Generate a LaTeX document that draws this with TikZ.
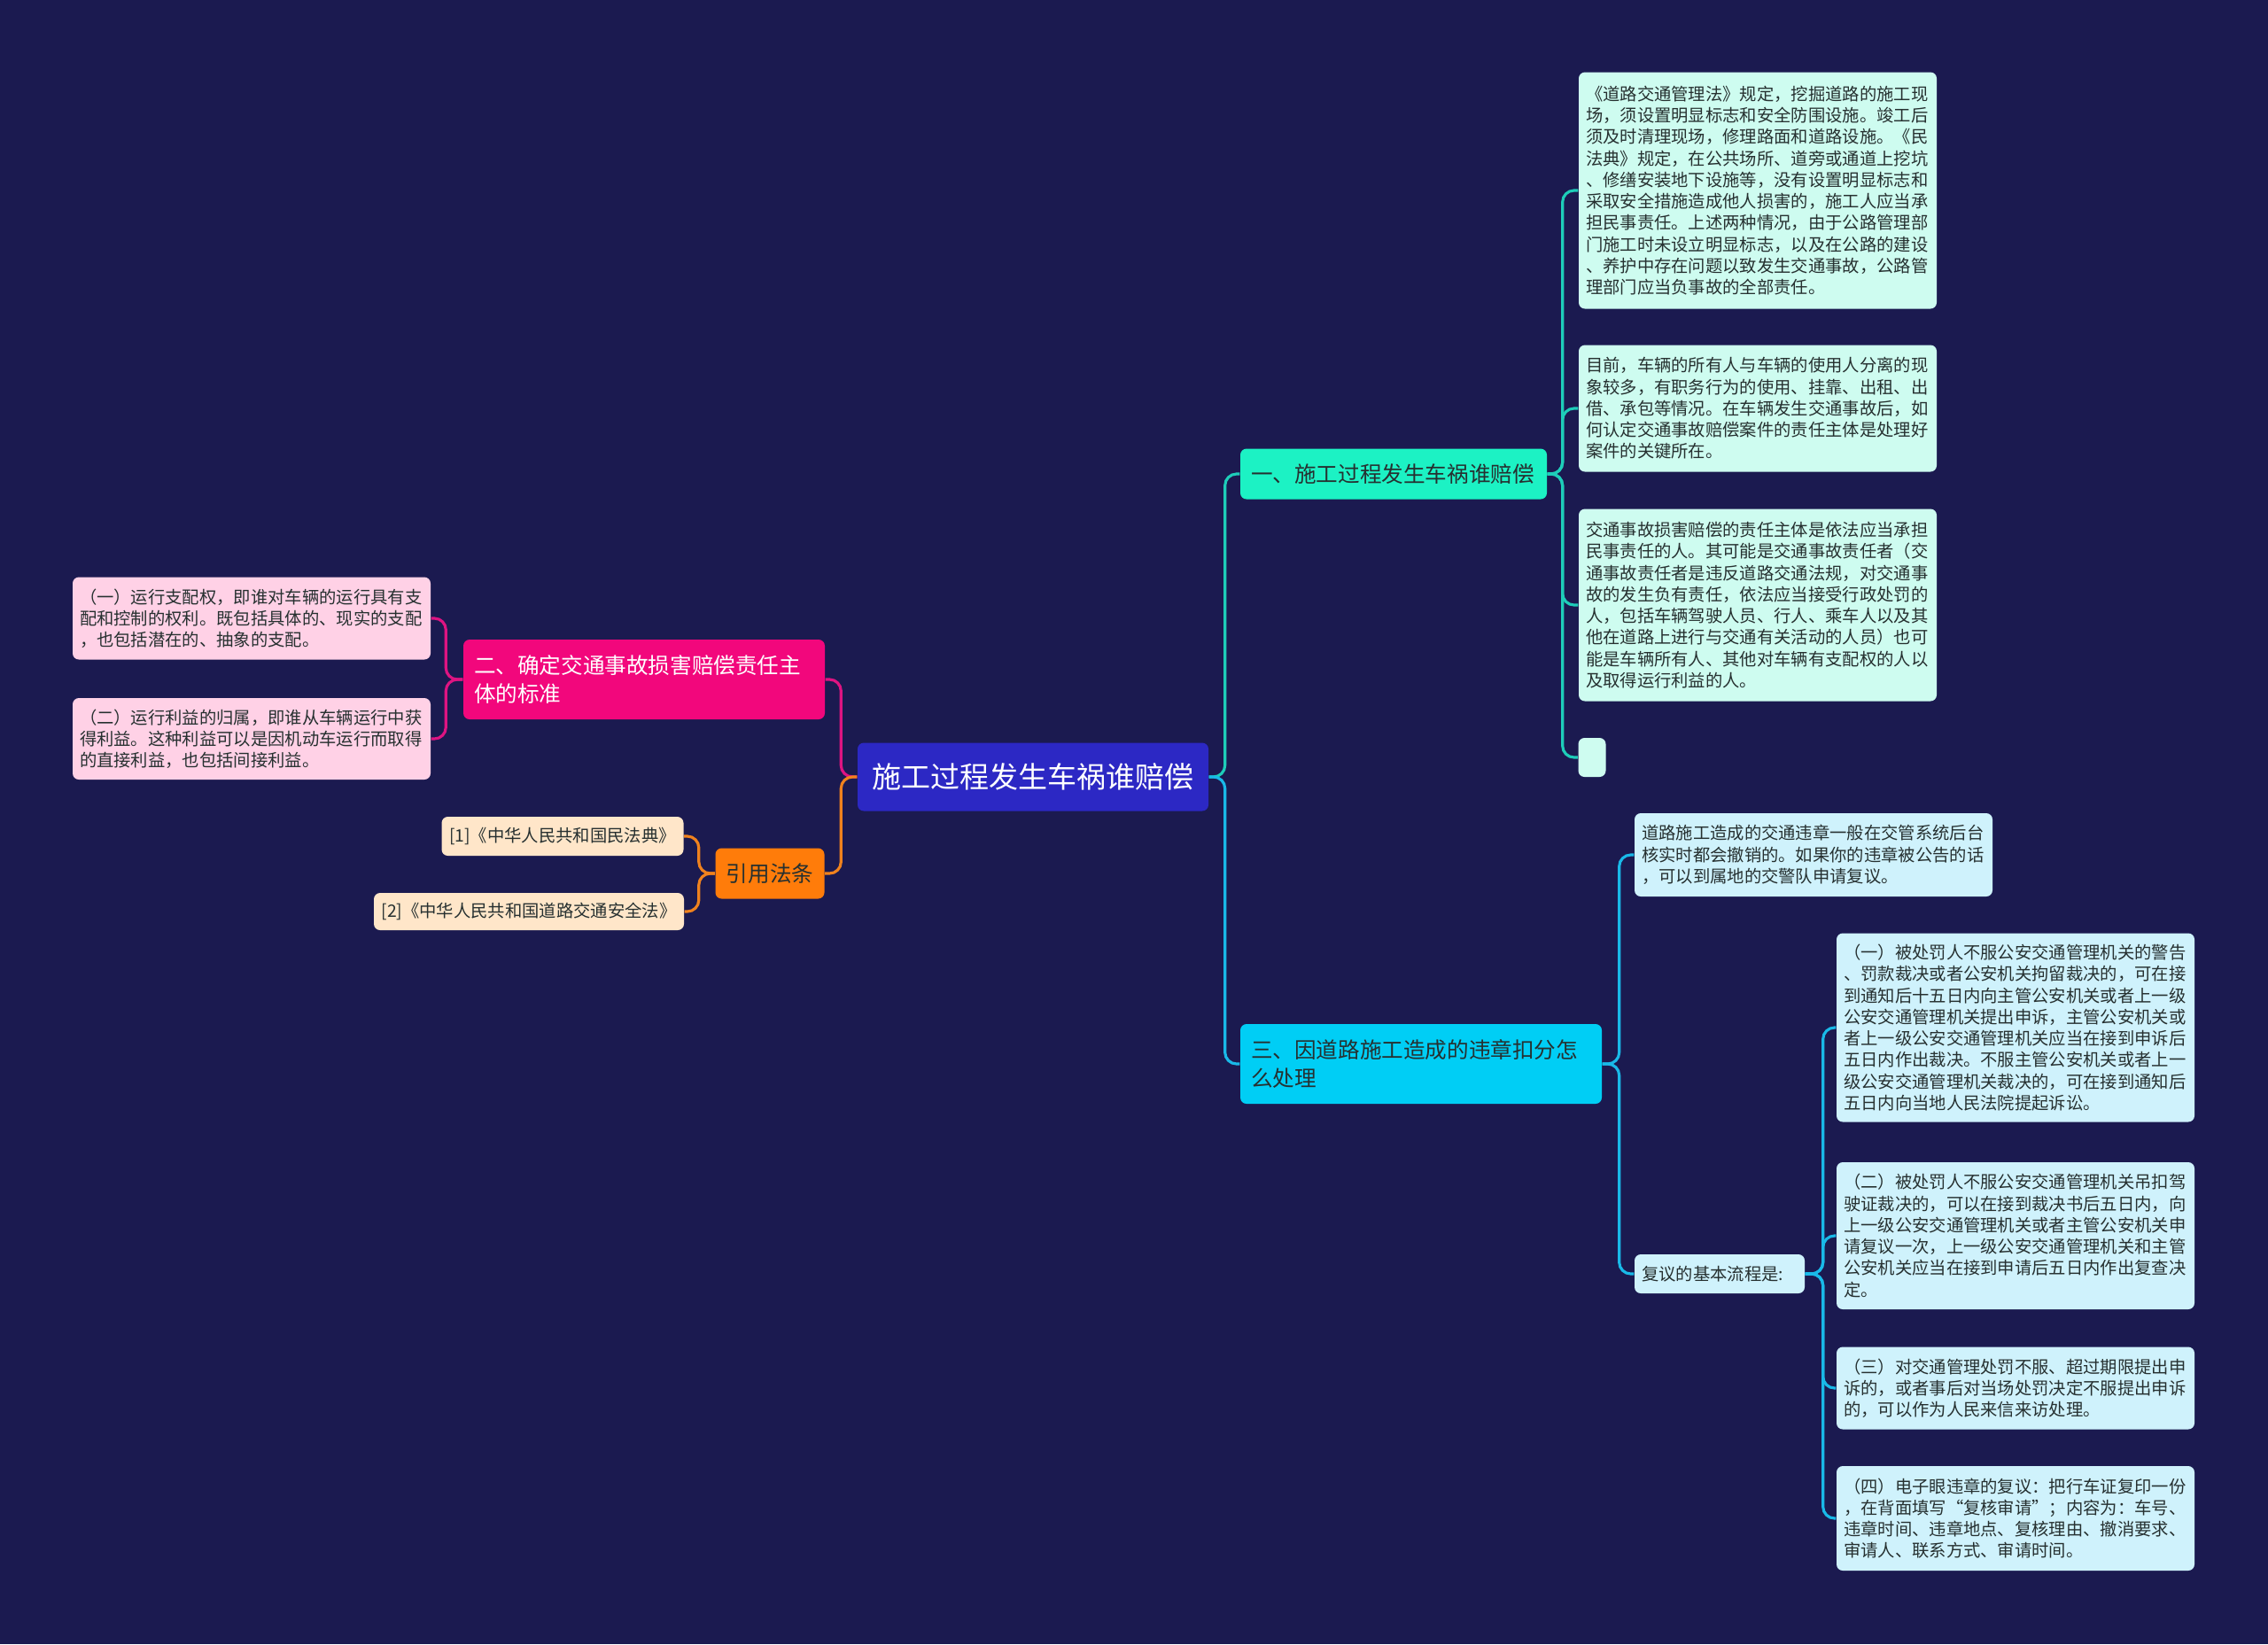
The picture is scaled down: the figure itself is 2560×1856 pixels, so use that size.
\documentclass[tikz,border=0pt]{standalone}
\usepackage{fontspec}
\setmainfont{Noto Sans CJK SC}

\definecolor{bgnavy}{RGB}{27,26,80}
\definecolor{rootblue}{RGB}{44,40,196}
\definecolor{mint}{RGB}{28,242,196}
\definecolor{mintline}{RGB}{30,205,185}
\definecolor{mintleaf}{RGB}{206,252,240}
\definecolor{sky}{RGB}{0,206,245}
\definecolor{skyline}{RGB}{25,185,232}
\definecolor{skyleaf}{RGB}{207,242,252}
\definecolor{rose}{RGB}{242,7,124}
\definecolor{roseline}{RGB}{222,20,130}
\definecolor{roseleaf}{RGB}{255,209,230}
\definecolor{amber}{RGB}{255,124,10}
\definecolor{amberline}{RGB}{240,130,30}
\definecolor{amberleaf}{RGB}{255,230,201}
\definecolor{inkdark}{RGB}{38,48,48}

\begin{document}
\begin{tikzpicture}[
  x=0.1mm, y=-0.1mm,
  root/.style={fill=rootblue, text=white, rounded corners=0.7mm, align=center,
               font=\fontsize{9.4}{11}\selectfont, minimum width=3.96cm, minimum height=0.77cm},
  topic/.style={rounded corners=0.7mm, align=left, inner xsep=1.2mm, inner ysep=0pt,
                font=\fontsize{7}{9.3}\selectfont},
  leaf/.style={fill=mintleaf, text=inkdark, rounded corners=0.7mm, align=left,
               inner xsep=0.8mm, inner ysep=0pt, text width=3.88cm,
               font=\fontsize{5.5}{6.9}\selectfont},
  cite/.style={fill=amberleaf, text=inkdark, rounded corners=0.7mm, align=center,
               inner sep=0pt, font=\fontsize{5.5}{6.9}\selectfont},
  link/.style={line width=0.9pt, rounded corners=1.3mm},
]

% Background
\useasboundingbox (0,0) rectangle (2560,1856);
\fill[bgnavy] (0,0) rectangle (2560,1856);

% === Centre ===
\node[root] (root) at (1166,877) {施工过程发生车祸谁赔偿};

% === Main topics ===
\node[topic, fill=mint, text=inkdark, text width=3.22cm, minimum height=0.57cm] (b1) at (1573,535)
  {一、施工过程发生车祸谁赔偿};
\node[topic, fill=sky, text=inkdark, text width=3.84cm, minimum height=0.9cm] (b3) at (1604,1201)
  {三、因道路施工造成的违章扣分怎\\么处理};
\node[topic, fill=rose, text=white, text width=3.84cm, minimum height=0.9cm] (b2) at (727,767)
  {二、确定交通事故损害赔偿责任主\\体的标准};
\node[topic, fill=amber, text=inkdark, align=center, minimum width=1.23cm, minimum height=0.57cm] (law) at (869,986)
  {引用法条};

% === Branch 1 leaves ===
\node[leaf, minimum height=2.67cm] (ta) at (1984,215) {%
《道路交通管理法》规定，挖掘道路的施工现\\
场，须设置明显标志和安全防围设施。竣工后\\
须及时清理现场，修理路面和道路设施。《民\\
法典》规定，在公共场所、道旁或通道上挖坑\\
、修缮安装地下设施等，没有设置明显标志和\\
采取安全措施造成他人损害的，施工人应当承\\
担民事责任。上述两种情况，由于公路管理部\\
门施工时未设立明显标志，以及在公路的建设\\
、养护中存在问题以致发生交通事故，公路管\\
理部门应当负事故的全部责任。};
\node[leaf, minimum height=1.43cm] (tb) at (1984,461) {%
目前，车辆的所有人与车辆的使用人分离的现\\
象较多，有职务行为的使用、挂靠、出租、出\\
借、承包等情况。在车辆发生交通事故后，如\\
何认定交通事故赔偿案件的责任主体是处理好\\
案件的关键所在。};
\node[leaf, minimum height=2.17cm] (tc) at (1984,683) {%
交通事故损害赔偿的责任主体是依法应当承担\\
民事责任的人。其可能是交通事故责任者（交\\
通事故责任者是违反道路交通法规，对交通事\\
故的发生负有责任，依法应当接受行政处罚的\\
人，包括车辆驾驶人员、行人、乘车人以及其\\
他在道路上进行与交通有关活动的人员）也可\\
能是车辆所有人、其他对车辆有支配权的人以\\
及取得运行利益的人。};
\node[leaf, text width=0pt, inner xsep=0pt, minimum width=0.31cm, minimum height=0.44cm] (td) at (1797,855) {};

% === Branch 3 leaves ===
\node[leaf, fill=skyleaf, minimum height=0.94cm] (sa) at (2047,965) {%
道路施工造成的交通违章一般在交管系统后台\\
核实时都会撤销的。如果你的违章被公告的话\\
，可以到属地的交警队申请复议。};
\node[leaf, fill=skyleaf, text width=1.76cm, minimum height=0.44cm] (flow) at (1941,1438) {复议的基本流程是:};

\node[leaf, fill=skyleaf, minimum height=2.13cm] (fa) at (2275,1160) {%
（一）被处罚人不服公安交通管理机关的警告\\
、罚款裁决或者公安机关拘留裁决的，可在接\\
到通知后十五日内向主管公安机关或者上一级\\
公安交通管理机关提出申诉，主管公安机关或\\
者上一级公安交通管理机关应当在接到申诉后\\
五日内作出裁决。不服主管公安机关或者上一\\
级公安交通管理机关裁决的，可在接到通知后\\
五日内向当地人民法院提起诉讼。};
\node[leaf, fill=skyleaf, minimum height=1.66cm] (fb) at (2275,1395) {%
（二）被处罚人不服公安交通管理机关吊扣驾\\
驶证裁决的，可以在接到裁决书后五日内，向\\
上一级公安交通管理机关或者主管公安机关申\\
请复议一次，上一级公安交通管理机关和主管\\
公安机关应当在接到申请后五日内作出复查决\\
定。};
\node[leaf, fill=skyleaf, minimum height=0.93cm] (fc) at (2275,1567) {%
（三）对交通管理处罚不服、超过期限提出申\\
诉的，或者事后对当场处罚决定不服提出申诉\\
的，可以作为人民来信来访处理。};
\node[leaf, fill=skyleaf, minimum height=1.18cm] (fd) at (2275,1714) {%
（四）电子眼违章的复议：把行车证复印一份\\
，在背面填写“复核审请”；内容为：车号、\\
违章时间、违章地点、复核理由、撤消要求、\\
审请人、联系方式、审请时间。};

% === Branch 2 leaves ===
\node[leaf, fill=roseleaf, minimum height=0.93cm] (pk1) at (284,698) {%
（一）运行支配权，即谁对车辆的运行具有支\\
配和控制的权利。既包括具体的、现实的支配\\
，也包括潜在的、抽象的支配。};
\node[leaf, fill=roseleaf, minimum height=0.92cm] (pk2) at (284,834) {%
（二）运行利益的归属，即谁从车辆运行中获\\
得利益。这种利益可以是因机动车运行而取得\\
的直接利益，也包括间接利益。};

% === Citations ===
\node[cite, minimum width=2.73cm, minimum height=0.44cm] (ref1) at (635,944) {[1]《中华人民共和国民法典》};
\node[cite, minimum width=3.50cm, minimum height=0.42cm] (ref2) at (597,1029) {[2]《中华人民共和国道路交通安全法》};

% === Connectors ===
\draw[link, mintline] (root.east) -- ++(18,0) |- (b1.west);
\draw[link, skyline] (root.east) -- ++(18,0) |- (b3.west);
\draw[link, roseline] (root.west) -- ++(-18,0) |- (b2.east);
\draw[link, amberline] (root.west) -- ++(-18,0) |- (law.east);

\foreach \n in {ta,tb,tc,td}
  \draw[link, mintline] (b1.east) -- ++(17,0) |- (\n.west);
\foreach \n in {sa,flow}
  \draw[link, skyline] (b3.east) -- ++(19,0) |- (\n.west);
\foreach \n in {fa,fb,fc,fd}
  \draw[link, skyline] (flow.east) -- ++(20,0) |- (\n.west);
\foreach \n in {pk1,pk2}
  \draw[link, roseline] (b2.west) -- ++(-19,0) |- (\n.east);
\foreach \n in {ref1,ref2}
  \draw[link, amberline] (law.west) -- ++(-18,0) |- (\n.east);

\end{tikzpicture}
\end{document}
